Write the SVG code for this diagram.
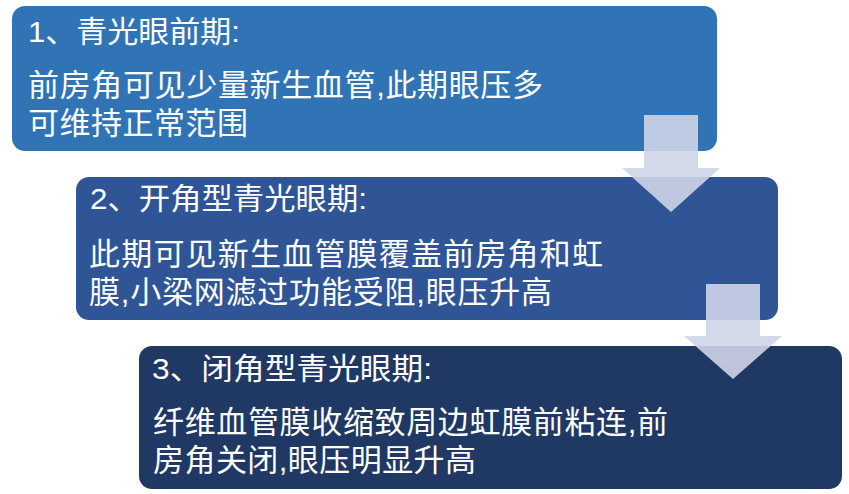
<svg xmlns="http://www.w3.org/2000/svg" width="849" height="494" viewBox="0 0 849 494">
<style>
  .t { font-family: "Liberation Sans", "Noto Sans CJK SC", sans-serif; fill: #ffffff; }
  .title { font-size: 30px; }
  .body { font-size: 31px; }
  .arrow { fill: #cfd5e8; fill-opacity: 0.9; }
</style>
<rect width="849" height="494" fill="#ffffff"/>
<g id="node1">
  <rect x="12" y="6" width="705" height="145" rx="13" fill="#3074b6"/>
  <text class="t title" x="28" y="42" textLength="212" lengthAdjust="spacingAndGlyphs">1、青光眼前期:</text>
  <text class="t body" x="28" y="96" textLength="515" lengthAdjust="spacing">前房角可见少量新生血管,此期眼压多</text>
  <text class="t body" x="28" y="134" textLength="220" lengthAdjust="spacing">可维持正常范围</text>
</g>
<g id="node2">
  <rect x="76" y="177" width="702" height="143" rx="13" fill="#2f5597"/>
  <text class="t title" x="90" y="209" textLength="277" lengthAdjust="spacingAndGlyphs">2、开角型青光眼期:</text>
  <text class="t body" x="89" y="265" textLength="514" lengthAdjust="spacing">此期可见新生血管膜覆盖前房角和虹</text>
  <text class="t body" x="89" y="303" textLength="463" lengthAdjust="spacing">膜,小梁网滤过功能受阻,眼压升高</text>
</g>
<g id="node3">
  <rect x="139" y="346" width="703" height="143" rx="13" fill="#203864"/>
  <text class="t title" x="152" y="379" textLength="280" lengthAdjust="spacingAndGlyphs">3、闭角型青光眼期:</text>
  <text class="t body" x="153" y="433" textLength="515" lengthAdjust="spacing">纤维血管膜收缩致周边虹膜前粘连,前</text>
  <text class="t body" x="153" y="471" textLength="323" lengthAdjust="spacing">房角关闭,眼压明显升高</text>
</g>
<g id="connectors">
  <polygon class="arrow" points="644,115 698,115 698,168 720,168 671,212 622,168 644,168"/>
  <polygon class="arrow" points="706,284 760,284 760,336 782,336 733,379 684,336 706,336"/>
</g>
</svg>
